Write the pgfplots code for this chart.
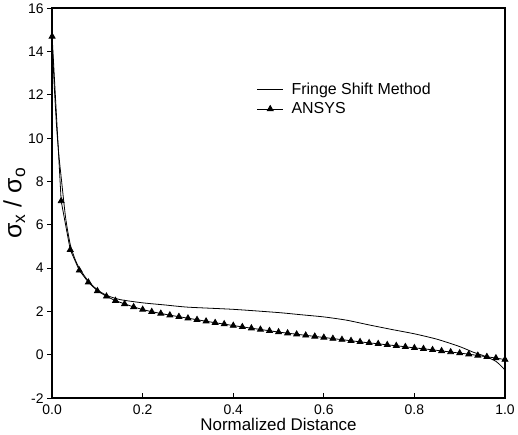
\documentclass[border=0pt]{standalone}
\usepackage{fontspec}
\setmainfont{Liberation Sans}
\usepackage{pgfplots}
\pgfplotsset{compat=1.18}

\begin{document}
\begin{tikzpicture}
\begin{axis}[
    scale only axis,
    width=453bp, height=390bp,
    xmin=0, xmax=1, ymin=-2, ymax=16,
    xtick={0,0.2,0.4,0.6,0.8,1.0},
    ytick={-2,0,...,16},
    tick pos=left,
    xtick align=inside,
    ytick align=outside,
    major tick length=5bp,
    axis line style={line width=1.6pt},
    tick style={line width=1pt, black},
    /pgf/number format/assume math mode=true,
    ticklabel style={font=\fontsize{14}{16}\selectfont},
    xticklabel style={yshift=-3bp, /pgf/number format/.cd, fixed, fixed zerofill, precision=1},
    xlabel={Normalized Distance},
    ylabel={σ\textsubscript{x} / σ\textsubscript{o}},
    xlabel style={font=\fontsize{17}{19}\selectfont, yshift=3bp},
    ylabel style={font=\fontsize{25}{27}\selectfont, yshift=-4bp},
    legend style={draw=none, fill=none, at={(0.445,0.82)}, anchor=north west,
        font=\fontsize{16}{19}\selectfont, row sep=3bp,
        /tikz/every odd column/.append style={column sep=6bp}},
    legend image code/.code={
        \draw[mark repeat=2, mark phase=2, #1] plot coordinates {(0bp,0bp) (13bp,0bp) (26bp,0bp)};},
    legend cell align=left,
]
\addplot[black, line width=0.8pt, smooth, tension=0.4] coordinates {
    (0.000,14.5) (0.005,12.3) (0.010,10.5) (0.015,9.2) (0.020,8.2) (0.030,6.3)
    (0.040,5.1) (0.050,4.45) (0.060,4.0) (0.080,3.4) (0.100,3.0) (0.120,2.75)
    (0.150,2.55) (0.200,2.4) (0.250,2.3) (0.300,2.2) (0.400,2.1) (0.500,1.95)
    (0.550,1.85) (0.600,1.75) (0.650,1.6) (0.700,1.38) (0.750,1.17) (0.800,0.97)
    (0.850,0.72) (0.900,0.38) (0.930,0.12) (0.950,-0.02) (0.980,-0.3) (1.000,-0.7)
};
\addlegendentry{Fringe Shift Method}
\addplot[black, line width=0.8pt, mark=triangle*, mark size=3.4pt] coordinates {
    (0.00,14.7) (0.02,7.1) (0.04,4.85) (0.06,3.9) (0.08,3.35) (0.10,2.95)
    (0.12,2.70) (0.14,2.50) (0.16,2.35) (0.18,2.21) (0.20,2.09) (0.22,1.99)
    (0.24,1.91) (0.26,1.83) (0.28,1.76) (0.30,1.69) (0.32,1.62) (0.34,1.55)
    (0.36,1.48) (0.38,1.42) (0.40,1.35) (0.42,1.29) (0.44,1.23) (0.46,1.17)
    (0.48,1.11) (0.50,1.05) (0.52,1.00) (0.54,0.95) (0.56,0.90) (0.58,0.85)
    (0.60,0.80) (0.62,0.75) (0.64,0.70) (0.66,0.65) (0.68,0.60) (0.70,0.55)
    (0.72,0.51) (0.74,0.46) (0.76,0.42) (0.78,0.37) (0.80,0.32) (0.82,0.28)
    (0.84,0.23) (0.86,0.18) (0.88,0.13) (0.90,0.08) (0.92,0.03) (0.94,-0.03)
    (0.96,-0.09) (0.98,-0.15) (1.00,-0.22)
};
\addlegendentry{ANSYS}
\end{axis}
\end{tikzpicture}
\end{document}
